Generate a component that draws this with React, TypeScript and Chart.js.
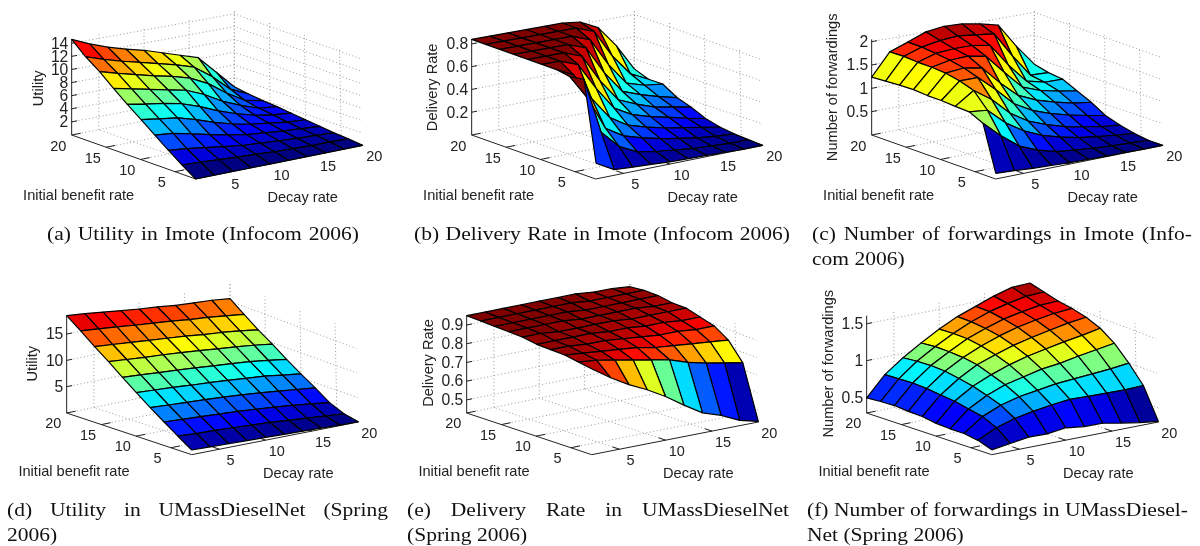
import React, { useEffect, useRef } from "react";
import { Chart, registerables } from "chart.js";

Chart.register(...registerables);

// grid of both rate axes (surface is sampled at these values)
const decayRates = [2, 4, 6, 8, 10, 12, 14, 16, 18, 20];
const initRates = [20, 18, 16, 14, 12, 10, 8, 6, 4, 2]; // row order of the tables below
const decayTicks = [5, 10, 15, 20];
const initTicks = [5, 10, 15, 20];

const utilityImote = [
  [14.6, 13.4, 12.4, 11.6, 10.9, 10.0, 9.1, 8.2, 5.4, 2.6],
  [12.7, 11.8, 11.0, 10.3, 9.6, 8.9, 8.0, 6.0, 3.5, 2.2],
  [11.2, 10.4, 9.7, 9.0, 8.4, 7.6, 6.2, 4.2, 2.5, 1.9],
  [9.4, 8.8, 8.2, 7.6, 7.0, 5.8, 4.2, 3.0, 2.0, 1.7],
  [7.7, 7.2, 6.8, 6.2, 5.2, 4.0, 3.0, 2.2, 1.7, 1.4],
  [6.1, 5.7, 5.3, 4.5, 3.5, 2.7, 2.1, 1.7, 1.3, 1.1],
  [4.5, 4.2, 3.6, 2.9, 2.3, 1.8, 1.5, 1.2, 1.0, 0.8],
  [2.9, 2.6, 2.2, 1.8, 1.4, 1.2, 1.0, 0.8, 0.7, 0.5],
  [1.4, 1.3, 1.1, 0.9, 0.8, 0.6, 0.5, 0.4, 0.4, 0.3],
  [0, 0, 0, 0, 0, 0, 0, 0, 0, 0],
];
const deliveryImote = [
  [0.84, 0.84, 0.84, 0.84, 0.84, 0.84, 0.82, 0.74, 0.55, 0.31],
  [0.84, 0.84, 0.84, 0.84, 0.84, 0.84, 0.78, 0.53, 0.34, 0.26],
  [0.84, 0.84, 0.84, 0.84, 0.84, 0.78, 0.53, 0.33, 0.28, 0.26],
  [0.84, 0.84, 0.84, 0.84, 0.78, 0.53, 0.33, 0.27, 0.22, 0.18],
  [0.84, 0.84, 0.84, 0.78, 0.53, 0.33, 0.26, 0.2, 0.17, 0.135],
  [0.84, 0.84, 0.78, 0.54, 0.33, 0.24, 0.19, 0.15, 0.11, 0.075],
  [0.84, 0.76, 0.52, 0.32, 0.22, 0.17, 0.13, 0.1, 0.07, 0.04],
  [0.82, 0.6, 0.3, 0.2, 0.15, 0.11, 0.08, 0.05, 0.03, 0.02],
  [0.84, 0.34, 0.18, 0.1, 0.07, 0.05, 0.03, 0.02, 0.01, 0.01],
  [0.14, 0.05, 0.04, 0.03, 0.02, 0.015, 0.01, 0.005, 0, 0],
];
const forwardingsImote = [
  [1.24, 1.71, 1.85, 2.0, 2.05, 2.03, 1.96, 1.86, 1.33, 0.86],
  [1.26, 1.72, 1.85, 1.92, 1.95, 1.9, 1.85, 1.3, 0.8, 0.78],
  [1.28, 1.7, 1.82, 1.85, 1.85, 1.78, 1.28, 0.85, 0.75, 0.74],
  [1.29, 1.7, 1.78, 1.8, 1.72, 1.3, 0.9, 0.75, 0.66, 0.59],
  [1.27, 1.68, 1.72, 1.65, 1.25, 0.9, 0.72, 0.6, 0.5, 0.44],
  [1.27, 1.62, 1.62, 1.28, 0.9, 0.68, 0.53, 0.42, 0.33, 0.25],
  [1.25, 1.52, 1.25, 0.88, 0.63, 0.47, 0.35, 0.26, 0.19, 0.14],
  [1.24, 1.2, 0.85, 0.6, 0.42, 0.3, 0.21, 0.15, 0.1, 0.06],
  [1.1, 0.75, 0.45, 0.28, 0.17, 0.12, 0.08, 0.05, 0.03, 0.01],
  [0.12, 0.1, 0.07, 0.05, 0.03, 0.02, 0.01, 0.01, 0, 0],
];
const utilityDiesel = [
  [18.5, 18.2, 17.8, 17.4, 17.0, 16.7, 16.3, 16.1, 15.9, 15.5],
  [16.6, 16.3, 16.0, 15.6, 15.3, 15.0, 14.6, 14.3, 13.9, 13.5],
  [14.6, 14.3, 14.0, 13.7, 13.4, 13.1, 12.7, 12.4, 12.0, 11.5],
  [12.7, 12.4, 12.1, 11.9, 11.6, 11.3, 10.9, 10.6, 10.2, 9.7],
  [10.6, 10.4, 10.1, 9.9, 9.6, 9.3, 9.0, 8.7, 8.2, 7.7],
  [8.6, 8.4, 8.2, 7.9, 7.7, 7.4, 7.1, 6.8, 6.3, 5.8],
  [6.6, 6.4, 6.2, 6.0, 5.8, 5.5, 5.2, 4.8, 4.4, 4.0],
  [4.7, 4.5, 4.3, 4.1, 3.9, 3.6, 3.3, 2.9, 2.5, 2.0],
  [2.8, 2.6, 2.5, 2.3, 2.1, 1.9, 1.6, 1.3, 1.0, 0.7],
  [0.95, 0.85, 0.75, 0.65, 0.55, 0.45, 0.35, 0.25, 0.12, 0.05],
];
const deliveryDiesel = [
  [0.95, 0.95, 0.95, 0.95, 0.95, 0.95, 0.95, 0.94, 0.94, 0.93],
  [0.95, 0.95, 0.95, 0.95, 0.95, 0.95, 0.94, 0.94, 0.94, 0.94],
  [0.95, 0.95, 0.95, 0.95, 0.95, 0.94, 0.94, 0.94, 0.94, 0.94],
  [0.95, 0.95, 0.95, 0.95, 0.94, 0.94, 0.94, 0.94, 0.93, 0.93],
  [0.95, 0.95, 0.94, 0.94, 0.94, 0.94, 0.93, 0.93, 0.93, 0.93],
  [0.94, 0.94, 0.94, 0.94, 0.93, 0.93, 0.92, 0.92, 0.91, 0.91],
  [0.94, 0.94, 0.93, 0.93, 0.92, 0.91, 0.9, 0.9, 0.89, 0.89],
  [0.94, 0.93, 0.92, 0.91, 0.9, 0.88, 0.87, 0.86, 0.85, 0.84],
  [0.93, 0.92, 0.9, 0.88, 0.86, 0.84, 0.805, 0.78, 0.76, 0.74],
  [0.92, 0.85, 0.79, 0.74, 0.68, 0.61, 0.545, 0.51, 0.46, 0.434],
];
const forwardingsDiesel = [
  [0.495, 0.76, 0.94, 1.09, 1.23, 1.35, 1.44, 1.53, 1.6, 1.61],
  [0.51, 0.77, 0.96, 1.11, 1.24, 1.35, 1.44, 1.5, 1.55, 1.56],
  [0.52, 0.78, 0.97, 1.11, 1.24, 1.33, 1.41, 1.46, 1.5, 1.51],
  [0.505, 0.77, 0.96, 1.1, 1.21, 1.3, 1.37, 1.42, 1.46, 1.48],
  [0.5, 0.75, 0.93, 1.07, 1.16, 1.24, 1.3, 1.35, 1.4, 1.43],
  [0.47, 0.73, 0.89, 1.0, 1.09, 1.16, 1.21, 1.26, 1.3, 1.35],
  [0.46, 0.69, 0.83, 0.93, 0.99, 1.05, 1.08, 1.13, 1.17, 1.21],
  [0.46, 0.65, 0.76, 0.83, 0.87, 0.91, 0.93, 0.95, 0.97, 1.0],
  [0.43, 0.56, 0.64, 0.69, 0.73, 0.76, 0.75, 0.745, 0.74, 0.75],
  [0.36, 0.4, 0.44, 0.435, 0.47, 0.435, 0.43, 0.38, 0.335, 0.3],
];

const ticksUtilityImote = [2, 4, 6, 8, 10, 12, 14];
const ticksDeliveryImote = [0.2, 0.4, 0.6, 0.8];
const ticksForwardingsImote = [0.5, 1, 1.5, 2];
const ticksUtilityDiesel = [5, 10, 15];
const ticksDeliveryDiesel = [0.5, 0.6, 0.7, 0.8, 0.9];
const ticksForwardingsDiesel = [0.5, 1, 1.5];

// Projection box of a 3-D axes, in a 1200 x 819 scale space
type Pt = [number, number];
type Box = { F: Pt; R: Pt; L: Pt; B: Pt; tF: Pt; tR: Pt; tL: Pt; tB: Pt; zRight: number; decayOff: Pt; initOff: Pt; initTitle: Pt; decayTitle: Pt };
const upperBox: Box = {
  F: [587, 537], R: [1088, 436], L: [215, 405], B: [703, 310],
  tF: [594, 253], tR: [1082, 165], tL: [215, 118], tB: [703, 30],
  zRight: 205, decayOff: [35, 34], initOff: [-40, 32], initTitle: [236, 587], decayTitle: [908, 595],
};
const lowerBox: Box = {
  F: [575, 545], R: [1075, 447], L: [200, 420], B: [690, 320],
  tF: [578, 273], tR: [1068, 175], tL: [200, 128], tB: [690, 30],
  zRight: 190, decayOff: [33, 33], initOff: [-40, 30], initTitle: [222, 597], decayTitle: [895, 604],
};

const panels = [
  { name: "Utility", z: utilityImote, ticks: ticksUtilityImote, range: [0, 14.6], box: upperBox, titlePos: [117, 265], left: 0, top: 0 },
  { name: "Delivery Rate", z: deliveryImote, ticks: ticksDeliveryImote, range: [0, 0.84], box: upperBox, titlePos: [100, 262], left: 400, top: 0 },
  { name: "Number of forwardings", z: forwardingsImote, ticks: ticksForwardingsImote, range: [0, 2.05], box: upperBox, titlePos: [100, 262], left: 800, top: 0 },
  { name: "Utility", z: utilityDiesel, ticks: ticksUtilityDiesel, range: [0, 18.5], box: lowerBox, titlePos: [100, 272], left: 0, top: 273 },
  { name: "Delivery Rate", z: deliveryDiesel, ticks: ticksDeliveryDiesel, range: [0.43, 0.95], box: lowerBox, titlePos: [87, 270], left: 400, top: 273 },
  { name: "Number of forwardings", z: forwardingsDiesel, ticks: ticksForwardingsDiesel, range: [0.29, 1.61], box: lowerBox, titlePos: [87, 272], left: 800, top: 273 },
];

// [left, right, centre y, text, justified]
const captions: [number, number, number, string, boolean][] = [
  [47, 359, 234, "(a) Utility in Imote (Infocom 2006)", true],
  [414, 790, 234, "(b) Delivery Rate in Imote (Infocom 2006)", true],
  [812, 1192, 234, "(c) Number of forwardings in Imote (Info-", true],
  [812, 1192, 259, "com 2006)", false],
  [7, 388, 510, "(d) Utility in UMassDieselNet (Spring", true],
  [7, 388, 535, "2006)", false],
  [407, 789, 510, "(e) Delivery Rate in UMassDieselNet", true],
  [407, 789, 535, "(Spring 2006)", false],
  [807, 1188, 510, "(f) Number of forwardings in UMassDiesel-", true],
  [807, 1188, 535, "Net (Spring 2006)", false],
];
const captionStretch = 1.17;

const lerp = (a: number, b: number, t: number) => a + (b - a) * t;
function project(box: Box, d: number, i: number, h: number) {
  const u = (d - 2) / 18;
  const v = (i - 2) / 18;
  const c = (n: 0 | 1) => {
    const bottom = lerp(lerp(box.F[n], box.R[n], u), lerp(box.L[n], box.B[n], u), v);
    const top = lerp(lerp(box.tF[n], box.tR[n], u), lerp(box.tL[n], box.tB[n], u), v);
    return lerp(bottom, top, h);
  };
  return { x: c(0), y: c(1) };
}

function jet(x: number) {
  const cl = (v: number) => Math.round(255 * Math.max(0, Math.min(1, v)));
  const r = cl(Math.min(4 * x - 1.5, -4 * x + 4.5));
  const g = cl(Math.min(4 * x - 0.5, -4 * x + 3.5));
  const b = cl(Math.min(4 * x + 0.5, -4 * x + 2.5));
  return `rgb(${r},${g},${b})`;
}

const dotted = (data: { x: number; y: number }[]) => ({
  data, showLine: true, fill: false, pointRadius: 0, borderWidth: 1, borderColor: "#999", borderDash: [1, 2.5],
});
const solid = (data: { x: number; y: number }[]) => ({
  data, showLine: true, fill: false, pointRadius: 0, borderWidth: 1, borderColor: "#222",
});

function buildDatasets(p: (typeof panels)[number]) {
  const box = p.box;
  const [zLo, zHi] = p.range;
  const h = (z: number) => (z - zLo) / (zHi - zLo);
  const flat = p.z.flat();
  const cMin = Math.min(...flat);
  const cMax = Math.max(...flat);
  const quads: any[] = [];
  const n = decayRates.length;
  for (let sum = 0; sum <= 2 * (n - 2); sum++) {
    for (let k = 0; k < n - 1; k++) {
      const j = sum - k;
      if (j < 0 || j > n - 2) continue;
      const row = n - 1 - j;
      const pt = (kk: number, rr: number) => project(box, decayRates[kk], initRates[rr], h(p.z[rr][kk]));
      quads.push({
        data: [pt(k, row), pt(k + 1, row), pt(k + 1, row - 1), pt(k, row - 1), pt(k, row)],
        showLine: true,
        fill: "shape",
        pointRadius: 0,
        borderWidth: 1.2,
        borderColor: "#000",
        borderJoinStyle: "round",
        backgroundColor: jet((p.z[row][k] - cMin) / (cMax - cMin)),
      });
    }
  }
  const grid: any[] = [];
  const P = (d: number, i: number, z: number) => project(box, d, i, z);
  for (const zf of p.ticks.map(h)) grid.push(dotted([P(2, 20, zf), P(20, 20, zf), P(20, 2, zf)]));
  for (const d of decayTicks) {
    grid.push(dotted([P(d, 20, 0), P(d, 20, 1)]));
    grid.push(dotted([P(d, 2, 0), P(d, 20, 0)]));
  }
  for (const i of initTicks) {
    grid.push(dotted([P(20, i, 0), P(20, i, 1)]));
    grid.push(dotted([P(2, i, 0), P(20, i, 0)]));
  }
  const axes: any[] = [
    solid([P(2, 20, 0), P(2, 20, 1)]),
    solid([P(2, 20, 0), P(2, 2, 0)]),
    solid([P(2, 2, 0), P(20, 2, 0)]),
  ];
  for (const d of decayTicks) axes.push(solid([P(d, 2, 0), P(d, 3, 0)]));
  for (const i of initTicks) axes.push(solid([P(2, i, 0), P(3, i, 0)]));
  for (const zf of p.ticks.map(h)) axes.push(solid([P(2, 20, zf), P(2.6, 20, zf)]));
  // Chart.js paints the first dataset last
  return [...quads, ...axes, ...grid];
}

const SANS = '"Liberation Sans", Arial, sans-serif';

function Panel({ panel }: { panel: (typeof panels)[number] }) {
  const ref = useRef<HTMLCanvasElement>(null);
  useEffect(() => {
    const labels = {
      id: "axisText",
      afterDraw(chart: any) {
        const { ctx, scales } = chart;
        const X = (v: number) => scales.x.getPixelForValue(v);
        const Y = (v: number) => scales.y.getPixelForValue(v);
        const box = panel.box;
        const [zLo, zHi] = panel.range;
        ctx.save();
        ctx.fillStyle = "#222";
        ctx.textBaseline = "middle";
        ctx.font = `15.7px ${SANS}`;
        ctx.textAlign = "right";
        for (const t of panel.ticks) {
          const q = project(box, 2, 20, (t - zLo) / (zHi - zLo));
          ctx.fillText(String(t), X(box.zRight), Y(q.y) + 1);
        }
        ctx.textAlign = "center";
        ctx.font = `14.5px ${SANS}`;
        for (const t of decayTicks) {
          const q = project(box, t, 2, 0);
          ctx.fillText(String(t), X(q.x + box.decayOff[0]), Y(q.y + box.decayOff[1]) + 0.5);
        }
        for (const t of initTicks) {
          const q = project(box, 2, t, 0);
          ctx.fillText(String(t), X(q.x + box.initOff[0]), Y(q.y + box.initOff[1]) + 1);
        }
        ctx.font = `14.6px ${SANS}`;
        ctx.fillText("Initial benefit rate", X(box.initTitle[0]), Y(box.initTitle[1]));
        ctx.fillText("Decay rate", X(box.decayTitle[0]), Y(box.decayTitle[1]));
        ctx.translate(X(panel.titlePos[0]), Y(panel.titlePos[1]));
        ctx.rotate(-Math.PI / 2);
        ctx.fillText(panel.name, 0, 0);
        ctx.restore();
      },
    };
    const chart = new Chart(ref.current!, {
      type: "scatter",
      data: { datasets: buildDatasets(panel) },
      options: {
        animation: false,
        responsive: false,
        layout: { padding: 0 },
        events: [],
        plugins: { legend: { display: false }, tooltip: { enabled: false } },
        scales: {
          x: { type: "linear", min: 0, max: 1200, display: false },
          y: { type: "linear", min: 0, max: 819, reverse: true, display: false },
        },
      },
      plugins: [labels],
    } as any);
    return () => chart.destroy();
  }, [panel]);
  return (
    <canvas
      ref={ref}
      width={400}
      height={273}
      style={{ position: "absolute", left: panel.left, top: panel.top, width: 400, height: 273, display: "block" }}
    />
  );
}

export default function App() {
  return (
    <div style={{ position: "absolute", left: 0, top: 0, width: 1200, height: 546, background: "#fff", overflow: "hidden" }}>
      {panels.map((p, idx) => (
        <Panel key={idx} panel={p} />
      ))}
      {captions.map(([l, r, cy, text, just], idx) => (
        <div
          key={idx}
          style={{
            position: "absolute",
            left: l,
            width: (r - l) / captionStretch,
            top: cy - 13,
            height: 26,
            lineHeight: "26px",
            fontFamily: '"Liberation Serif", "Times New Roman", serif',
            fontSize: 18.4,
            color: "#111",
            textAlign: just ? "justify" : "left",
            textAlignLast: just ? "justify" : "left",
            transform: `scaleX(${captionStretch})`,
            transformOrigin: "left center",
          }}
        >
          {text}
        </div>
      ))}
    </div>
  );
}
